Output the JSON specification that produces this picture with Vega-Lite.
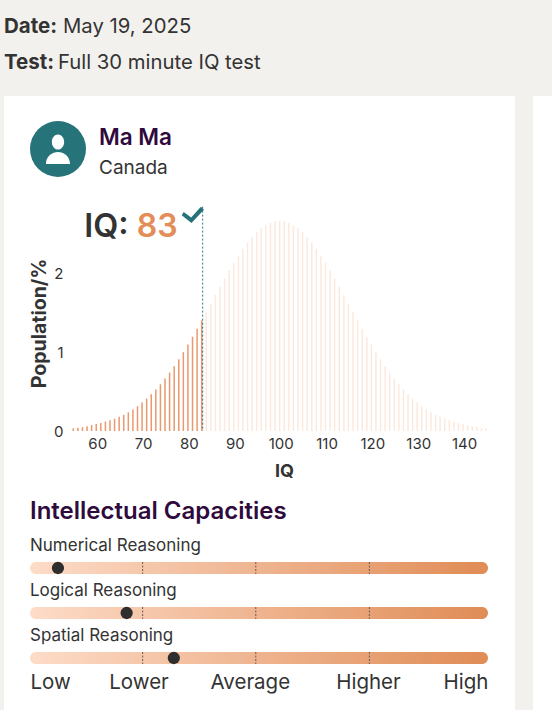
{
"$schema":"https://vega.github.io/schema/vega-lite/v6.json",
"background":"#f3f1ee",
"padding":{"left":4,"top":0,"right":0,"bottom":0},
"autosize":{"type":"pad"},
"spacing":0,
"config":{"font":"Inter","view":{"stroke":null},"concat":{"spacing":0}},
"datasets":{
"pop":[
{"iq":55,"population":0.035},{"iq":56,"population":0.04},{"iq":57,"population":0.05},{"iq":58,"population":0.06},{"iq":59,"population":0.075},{"iq":60,"population":0.09},{"iq":61,"population":0.1},{"iq":62,"population":0.12},{"iq":63,"population":0.135},{"iq":64,"population":0.155},{"iq":65,"population":0.18},{"iq":66,"population":0.204},{"iq":67,"population":0.237},{"iq":68,"population":0.273},{"iq":69,"population":0.314},{"iq":70,"population":0.36},{"iq":71,"population":0.41},{"iq":72,"population":0.466},{"iq":73,"population":0.526},{"iq":74,"population":0.592},{"iq":75,"population":0.663},{"iq":76,"population":0.74},{"iq":77,"population":0.821},{"iq":78,"population":0.907},{"iq":79,"population":0.998},{"iq":80,"population":1.094},{"iq":81,"population":1.193},{"iq":82,"population":1.295},{"iq":83,"population":1.4},
{"iq":84,"population":1.506},{"iq":85,"population":1.613},{"iq":86,"population":1.721},{"iq":87,"population":1.827},{"iq":88,"population":1.932},{"iq":89,"population":2.033},{"iq":90,"population":2.13},{"iq":91,"population":2.222},{"iq":92,"population":2.307},{"iq":93,"population":2.386},{"iq":94,"population":2.456},{"iq":95,"population":2.516},{"iq":96,"population":2.567},{"iq":97,"population":2.607},{"iq":98,"population":2.636},{"iq":99,"population":2.654},{"iq":100,"population":2.66},
{"iq":101,"population":2.654},{"iq":102,"population":2.636},{"iq":103,"population":2.607},{"iq":104,"population":2.567},{"iq":105,"population":2.516},{"iq":106,"population":2.456},{"iq":107,"population":2.386},{"iq":108,"population":2.307},{"iq":109,"population":2.222},{"iq":110,"population":2.13},{"iq":111,"population":2.033},{"iq":112,"population":1.932},{"iq":113,"population":1.827},{"iq":114,"population":1.721},{"iq":115,"population":1.613},{"iq":116,"population":1.506},{"iq":117,"population":1.4},{"iq":118,"population":1.295},{"iq":119,"population":1.193},{"iq":120,"population":1.094},{"iq":121,"population":0.998},{"iq":122,"population":0.907},{"iq":123,"population":0.821},{"iq":124,"population":0.74},{"iq":125,"population":0.663},{"iq":126,"population":0.592},{"iq":127,"population":0.526},{"iq":128,"population":0.466},{"iq":129,"population":0.41},{"iq":130,"population":0.36},{"iq":131,"population":0.314},{"iq":132,"population":0.273},{"iq":133,"population":0.237},{"iq":134,"population":0.204},{"iq":135,"population":0.18},{"iq":136,"population":0.155},{"iq":137,"population":0.135},{"iq":138,"population":0.12},{"iq":139,"population":0.1},{"iq":140,"population":0.09},{"iq":141,"population":0.075},{"iq":142,"population":0.06},{"iq":143,"population":0.05},{"iq":144,"population":0.04},{"iq":145,"population":0.035}
],
"abilities":[{"ability":"Numerical Reasoning","score":6.1},{"ability":"Logical Reasoning","score":21.1},{"ability":"Spatial Reasoning","score":31.4}],
"marks":[
{"ability":"Numerical Reasoning","level":24.6},{"ability":"Numerical Reasoning","level":49.3},{"ability":"Numerical Reasoning","level":74.1},
{"ability":"Logical Reasoning","level":24.6},{"ability":"Logical Reasoning","level":49.3},{"ability":"Logical Reasoning","level":74.1},
{"ability":"Spatial Reasoning","level":24.6},{"ability":"Spatial Reasoning","level":49.3},{"ability":"Spatial Reasoning","level":74.1}
]
},
"vconcat":[
{"width":548,"height":96,"view":{"stroke":null},
"resolve":{"scale":{"x":"independent","y":"independent"}},
"layer":[
{"data":{"values":[{"label":"Date:"},{"label":"Test:"}]},
"mark":{"type":"text","align":"left","baseline":"alphabetic","fontSize":20.5,"fontWeight":700,"color":"#333333"},
"encoding":{"text":{"field":"label"},
"x":{"field":"label","type":"nominal","axis":null,"scale":{"type":"point","padding":0,"domain":["Date:","Test:"],"range":[0,0]}},
"y":{"field":"label","type":"nominal","axis":null,"scale":{"type":"point","padding":0,"domain":["Date:","Test:"],"range":[33,69]}}}},
{"data":{"values":[{"label":"May 19, 2025"},{"label":"Full 30 minute IQ test"}]},
"mark":{"type":"text","align":"left","baseline":"alphabetic","fontSize":20.3,"fontWeight":400,"color":"#333333"},
"encoding":{"text":{"field":"label"},
"x":{"field":"label","type":"nominal","axis":null,"scale":{"type":"point","padding":0,"domain":["May 19, 2025","Full 30 minute IQ test"],"range":[59,54]}},
"y":{"field":"label","type":"nominal","axis":null,"scale":{"type":"point","padding":0,"domain":["May 19, 2025","Full 30 minute IQ test"],"range":[33,69]}}}}
]},
{"spacing":18,"hconcat":[
{"width":511,"height":614,"view":{"fill":"#ffffff","stroke":null},
"resolve":{"scale":{"x":"independent","y":"independent","color":"independent"}},
"layer":[
{"data":{"values":[{"who":"Ma Ma"}]},
"mark":{"type":"point","filled":true,"opacity":1,"color":"#26737a","shape":"circle","size":3136},
"encoding":{"x":{"field":"who","type":"nominal","axis":null,"scale":{"type":"point","padding":0,"domain":["Ma Ma"],"range":[54,54]}},
"y":{"field":"who","type":"nominal","axis":null,"scale":{"type":"point","padding":0,"domain":["Ma Ma"],"range":[53,53]}}}},
{"data":{"values":[{"who":"Ma Ma"}]},
"mark":{"type":"point","filled":true,"opacity":1,"color":"#ffffff","size":3136,"shape":"M-0.43,0.54 C-0.43,0.25 -0.2,0.11 0,0.11 C0.2,0.11 0.43,0.25 0.43,0.54 Z M-0.22,-0.25 A0.22,0.27 0 1,1 0.22,-0.25 A0.22,0.27 0 1,1 -0.22,-0.25 Z"},
"encoding":{"x":{"field":"who","type":"nominal","axis":null,"scale":{"type":"point","padding":0,"domain":["Ma Ma"],"range":[54,54]}},
"y":{"field":"who","type":"nominal","axis":null,"scale":{"type":"point","padding":0,"domain":["Ma Ma"],"range":[53,53]}}}},
{"data":{"values":[{"label":"Ma Ma"}]},
"mark":{"type":"text","align":"left","baseline":"alphabetic","fontSize":22.5,"fontWeight":600,"color":"#2f0a3d"},
"encoding":{"text":{"field":"label"},
"x":{"field":"label","type":"nominal","axis":null,"scale":{"type":"point","padding":0,"domain":["Ma Ma"],"range":[95,95]}},
"y":{"field":"label","type":"nominal","axis":null,"scale":{"type":"point","padding":0,"domain":["Ma Ma"],"range":[49,49]}}}},
{"data":{"values":[{"label":"Canada"}]},
"mark":{"type":"text","align":"left","baseline":"alphabetic","fontSize":19,"fontWeight":400,"color":"#333333"},
"encoding":{"text":{"field":"label"},
"x":{"field":"label","type":"nominal","axis":null,"scale":{"type":"point","padding":0,"domain":["Canada"],"range":[95,95]}},
"y":{"field":"label","type":"nominal","axis":null,"scale":{"type":"point","padding":0,"domain":["Canada"],"range":[78,78]}}}},
{"data":{"name":"pop"},
"mark":{"type":"bar","size":1.5},
"encoding":{
"x":{"field":"iq","type":"quantitative","scale":{"domain":[55,145],"range":[69.3,482],"nice":false,"zero":false,"padding":0},
"axis":{"orient":"bottom","offset":-279,"values":[60,70,80,90,100,110,120,130,140],"grid":false,"domain":false,"ticks":false,"labelFontSize":15,"labelColor":"#333333","labelPadding":5,"labelOffset":1,"labelFlush":false,"labelOverlap":false,"title":"IQ","titleFontSize":18,"titleFontWeight":700,"titleColor":"#333333","titleX":280,"titleY":31}},
"y":{"field":"population","type":"quantitative","scale":{"domain":[0,3],"range":[335,98],"nice":false,"zero":true},
"axis":{"orient":"left","offset":-59,"values":[0,1,2],"format":"d","grid":false,"domain":false,"ticks":false,"labelFontSize":15,"labelColor":"#333333","labelPadding":0,"title":"Population/%","titleFontSize":19.5,"titleFontWeight":700,"titleColor":"#333333","titleY":227,"titleX":-14}},
"color":{"condition":{"test":"datum.iq<=83","value":"#e8996d"},"value":"#fce9de"}}},
{"data":{"values":[{"iq":83,"top":2.84}]},
"mark":{"type":"rule","strokeDash":[2,2],"strokeWidth":1,"color":"#26737a"},
"encoding":{
"x":{"field":"iq","type":"quantitative","axis":null,"scale":{"domain":[55,145],"range":[69.3,482],"nice":false,"zero":false}},
"xOffset":{"value":1},
"y":{"field":"top","type":"quantitative","axis":null,"scale":{"domain":[0,3],"range":[335,98],"nice":false,"zero":true}},
"y2":{"datum":0}}},
{"data":{"values":[{"iq":83,"mark":2.74}]},
"mark":{"type":"point","filled":true,"opacity":1,"color":"#26737a","size":400,"shape":"M-1,-0.25 L-0.25,0.3 L0.72,-0.78 L1.02,-0.48 L-0.22,0.85 L-1.2,0.08 Z"},
"encoding":{
"x":{"field":"iq","type":"quantitative","axis":null,"scale":{"domain":[55,145],"range":[69.3,482],"nice":false,"zero":false}},
"xOffset":{"value":-8},
"y":{"field":"mark","type":"quantitative","axis":null,"scale":{"domain":[0,3],"range":[335,98],"nice":false,"zero":true}}}},
{"data":{"values":[{"iq":83,"at":2.456,"label":"83"}]},
"mark":{"type":"text","align":"right","baseline":"alphabetic","dx":-24,"fontSize":32,"fontWeight":600,"color":"#e38d58"},
"encoding":{"text":{"field":"label"},
"x":{"field":"iq","type":"quantitative","axis":null,"scale":{"domain":[55,145],"range":[69.3,482],"nice":false,"zero":false}},
"y":{"field":"at","type":"quantitative","axis":null,"scale":{"domain":[0,3],"range":[335,98],"nice":false,"zero":true}}}},
{"data":{"values":[{"iq":83,"at":2.456,"label":"IQ:"}]},
"mark":{"type":"text","align":"right","baseline":"alphabetic","dx":-73,"fontSize":32.5,"fontWeight":600,"color":"#333333"},
"encoding":{"text":{"field":"label"},
"x":{"field":"iq","type":"quantitative","axis":null,"scale":{"domain":[55,145],"range":[69.3,482],"nice":false,"zero":false}},
"y":{"field":"at","type":"quantitative","axis":null,"scale":{"domain":[0,3],"range":[335,98],"nice":false,"zero":true}}}},
{"data":{"values":[{"label":"Intellectual Capacities"}]},
"mark":{"type":"text","align":"left","baseline":"alphabetic","fontSize":24,"fontWeight":600,"color":"#2f0a3d"},
"encoding":{"text":{"field":"label"},
"x":{"field":"label","type":"nominal","axis":null,"scale":{"type":"point","padding":0,"domain":["Intellectual Capacities"],"range":[26,26]}},
"y":{"field":"label","type":"nominal","axis":null,"scale":{"type":"point","padding":0,"domain":["Intellectual Capacities"],"range":[423,423]}}}},
{"data":{"name":"abilities"},
"mark":{"type":"bar","size":12,"cornerRadius":6,"color":{"gradient":"linear","x1":0,"x2":1,"y1":0,"y2":0,"stops":[{"offset":0,"color":"#fddcc8"},{"offset":1,"color":"#e08c56"}]}},
"encoding":{
"x":{"datum":0,"type":"quantitative","scale":{"domain":[0,100],"range":[26,484],"nice":false,"zero":false,"padding":0},
"axis":{"orient":"bottom","offset":-44,"values":[0,23.7,48,73.8,100],"labelExpr":"datum.value==0?'Low':datum.value<30?'Lower':datum.value<60?'Average':datum.value<90?'Higher':'High'","grid":false,"domain":false,"ticks":false,"title":null,"labelFontSize":20.5,"labelColor":"#333333","labelPadding":6,"labelFlush":true,"labelOverlap":false}},
"x2":{"datum":100},
"y":{"field":"ability","type":"nominal","axis":null,"scale":{"type":"point","padding":0,"domain":["Numerical Reasoning","Logical Reasoning","Spatial Reasoning"],"range":[472,562]}}}},
{"data":{"name":"marks"},
"mark":{"type":"point","filled":false,"opacity":1,"color":"#6b5a4e","strokeWidth":1,"strokeDash":[2,1.5],"size":144,"shape":"M0,-1 L0,1"},
"encoding":{
"x":{"field":"level","type":"quantitative","axis":null,"scale":{"domain":[0,100],"range":[26,484],"nice":false,"zero":false}},
"y":{"field":"ability","type":"nominal","axis":null,"scale":{"type":"point","padding":0,"domain":["Numerical Reasoning","Logical Reasoning","Spatial Reasoning"],"range":[472,562]}}}},
{"data":{"name":"abilities"},
"mark":{"type":"point","filled":true,"opacity":1,"color":"#2e2e2e","size":151},
"encoding":{
"x":{"field":"score","type":"quantitative","axis":null,"scale":{"domain":[0,100],"range":[26,484],"nice":false,"zero":false}},
"y":{"field":"ability","type":"nominal","axis":null,"scale":{"type":"point","padding":0,"domain":["Numerical Reasoning","Logical Reasoning","Spatial Reasoning"],"range":[472,562]}}}},
{"data":{"name":"abilities"},
"mark":{"type":"text","align":"left","baseline":"alphabetic","dy":-17,"fontSize":17,"fontWeight":400,"color":"#333333"},
"encoding":{"text":{"field":"ability"},
"x":{"datum":0,"type":"quantitative","axis":null,"scale":{"domain":[0,100],"range":[26,484],"nice":false,"zero":false}},
"y":{"field":"ability","type":"nominal","axis":null,"scale":{"type":"point","padding":0,"domain":["Numerical Reasoning","Logical Reasoning","Spatial Reasoning"],"range":[472,562]}}}}
]},
{"width":19,"height":614,"view":{"fill":"#ffffff","stroke":null},"data":{"values":[{}]},"mark":{"type":"point","opacity":0},"encoding":{}}
]}
]
}
